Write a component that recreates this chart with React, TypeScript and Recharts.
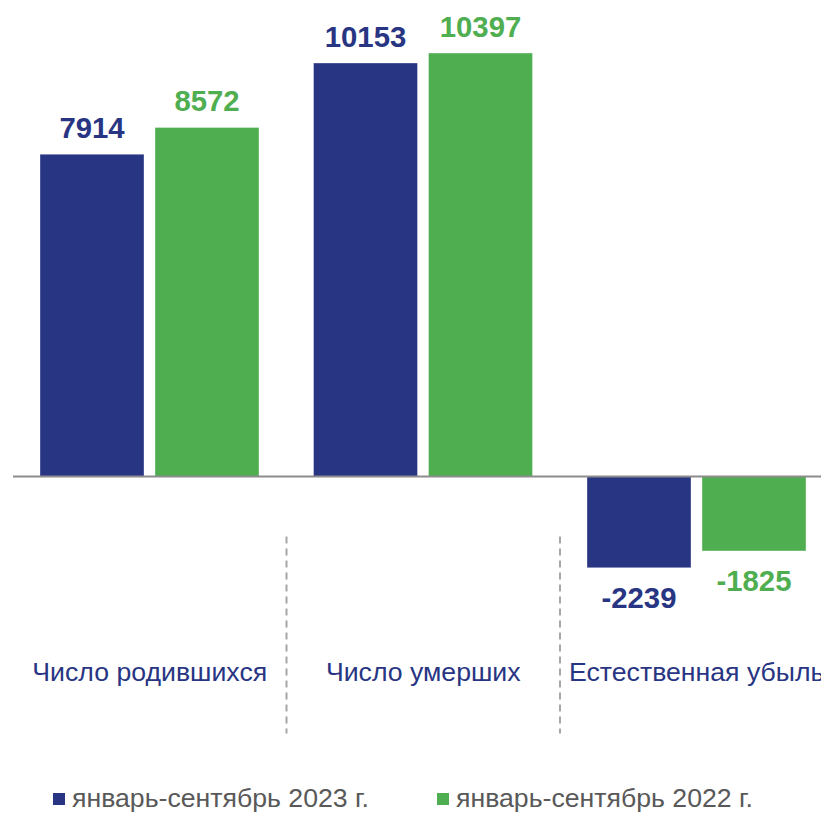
import React from 'react';
import { BarChart, Bar, XAxis, YAxis, ReferenceLine, Legend, LabelList } from 'recharts';

// categories and series
const categories = ['Число родившихся', 'Число умерших', 'Естественная убыль'];
const values2023 = [7914, 10153, -2239];
const values2022 = [8572, 10397, -1825];
const seriesNames = ['январь-сентябрь 2023 г.', 'январь-сентябрь 2022 г.'];

const NAVY = '#283583';
const GREEN = '#4FAE50';
const FONT = '"Liberation Sans", Arial, sans-serif';

const CHART_W = 850;
const CHART_H = 814;
const MARGIN = { top: 0, right: 16.5, left: 13, bottom: 0 };
const PLOT_W = CHART_W - MARGIN.left - MARGIN.right;
const BAND = PLOT_W / categories.length;

const data = categories.map((name, i) => ({
    name,
    y2023: values2023[i],
    y2022: values2022[i],
}));

const makeLabel = (color: string) => (props: any) => {
    const { x, y, width, height, value } = props;
    const top = Math.min(y, y + height);
    const bottom = Math.max(y, y + height);
    const ty = value >= 0 ? top - 16 : bottom + 40;
    return (
        <text x={x + width / 2} y={ty} textAnchor="middle" fill={color}
            style={{ fontFamily: FONT, fontSize: 29.3, fontWeight: 700 }}>
            {value}
        </text>
    );
};

const CategoryTick = (props: any) => {
    const { x, y, payload, index } = props;
    return (
        <g>
            {index > 0 && (
                <line x1={x - BAND / 2} x2={x - BAND / 2} y1={y - 105} y2={y + 92}
                    stroke="#a6a6a6" strokeWidth={2} strokeDasharray="7 5" />
            )}
            <text x={x} y={y + 39.5} textAnchor="middle" fill={NAVY}
                style={{ fontFamily: FONT, fontSize: 26.67 }}>
                {payload.value}
            </text>
        </g>
    );
};

const LegendContent = () => (
    <div style={{ height: 60, display: 'flex', paddingLeft: 40, boxSizing: 'border-box', paddingTop: 31 }}>
        {[NAVY, GREEN].map((c, i) => (
            <div key={i} style={{ display: 'flex', alignItems: 'flex-start', width: 384 }}>
                <span style={{ width: 12, height: 12, background: c, marginTop: 8, marginRight: 7, display: 'inline-block', flex: 'none' }} />
                <span style={{ fontFamily: FONT, fontSize: 26.67, lineHeight: '26.67px', color: '#595959', whiteSpace: 'nowrap' }}>
                    {seriesNames[i]}
                </span>
            </div>
        ))}
    </div>
);

export default function App() {
    return (
        <div style={{ position: 'absolute', left: 0, top: 0, width: 821, height: 814, overflow: 'hidden', background: '#fff', fontFamily: FONT }}>
            <BarChart width={CHART_W} height={CHART_H} data={data} margin={MARGIN} barCategoryGap={27} barGap={11}>
                <XAxis dataKey="name" axisLine={false} tickLine={false} tickSize={0} height={114.5}
                    tick={<CategoryTick />} interval={0} />
                <YAxis hide type="number" domain={[-4000, 11700]} />
                <Legend verticalAlign="bottom" content={<LegendContent />} />
                <Bar dataKey="y2023" name={seriesNames[0]} fill={NAVY} stroke="#ffffff" strokeOpacity={0.35} strokeWidth={1} isAnimationActive={false}>
                    <LabelList dataKey="y2023" content={makeLabel(NAVY)} />
                </Bar>
                <Bar dataKey="y2022" name={seriesNames[1]} fill={GREEN} stroke="#ffffff" strokeOpacity={0.35} strokeWidth={1} isAnimationActive={false}>
                    <LabelList dataKey="y2022" content={makeLabel(GREEN)} />
                </Bar>
                <ReferenceLine y={0} stroke="#8c8c8c" strokeWidth={2} />
            </BarChart>
        </div>
    );
}
